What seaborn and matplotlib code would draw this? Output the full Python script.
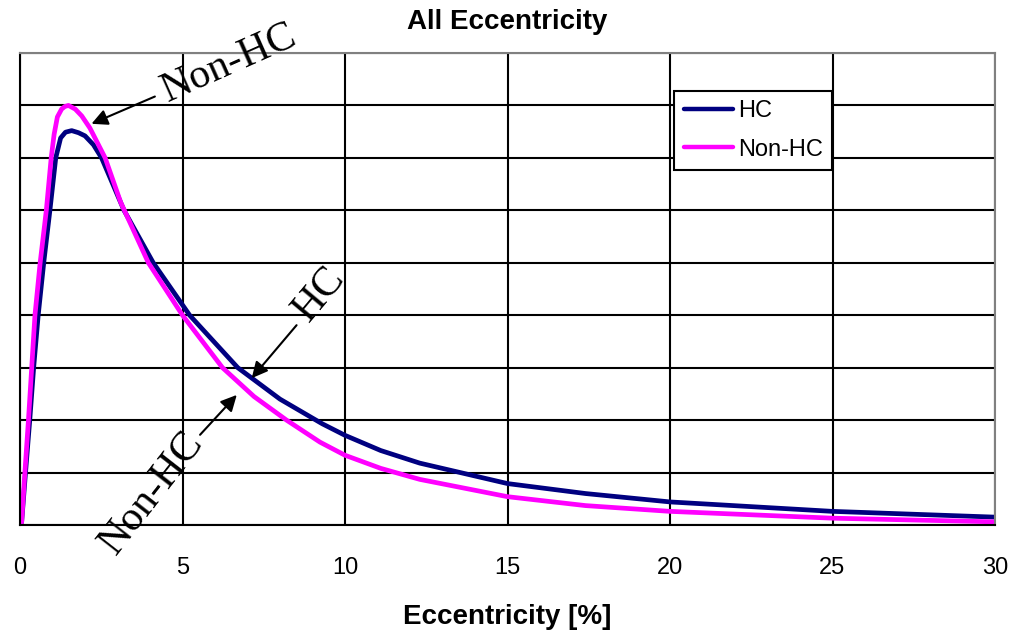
import matplotlib
matplotlib.use("Agg")
import matplotlib.pyplot as plt
import seaborn as sns
import pandas as pd

# Eccentricity distribution curves (relative frequency, arbitrary units)
hc_x = [0.05, 0.17, 0.30, 0.42, 0.56, 0.73, 0.92, 1.10, 1.25, 1.40, 1.59, 1.80,
        2.00, 2.26, 2.51, 3.20, 4.10, 5.22, 6.70, 8.00, 9.30, 10.0, 11.1, 12.3,
        15.0, 17.4, 20.0, 25.0, 30.0]
hc_y = [0.05, 1.00, 2.00, 3.00, 4.00, 5.00, 6.00, 7.00, 7.38, 7.49, 7.52, 7.48,
        7.42, 7.25, 7.00, 6.00, 5.00, 4.00, 3.00, 2.40, 1.93, 1.71, 1.42, 1.18,
        0.79, 0.60, 0.44, 0.26, 0.15]

nonhc_x = [0.05, 0.15, 0.26, 0.36, 0.46, 0.62, 0.81, 0.96, 1.05, 1.15, 1.28, 1.38,
           1.49, 1.70, 1.90, 2.15, 2.62, 3.10, 3.95, 5.00, 6.23, 7.20, 8.20, 9.23,
           10.0, 11.1, 12.3, 15.0, 17.4, 20.0, 25.0, 30.0]
nonhc_y = [0.05, 1.00, 2.00, 3.00, 4.00, 5.00, 6.00, 7.00, 7.45, 7.78, 7.93, 7.98,
           8.00, 7.93, 7.80, 7.57, 7.00, 6.15, 5.00, 4.00, 3.00, 2.45, 2.00, 1.58,
           1.33, 1.08, 0.87, 0.54, 0.37, 0.26, 0.13, 0.06]

series_names = ["HC", "Non-HC"]
series_colors = ["#000080", "#FF00FF"]
x_ticks = [0, 5, 10, 15, 20, 25, 30]

df = pd.concat([
    pd.DataFrame({"x": hc_x, "y": hc_y, "series": series_names[0]}),
    pd.DataFrame({"x": nonhc_x, "y": nonhc_y, "series": series_names[1]}),
], ignore_index=True)

sns.set_theme(style="white")
plt.rcParams["font.family"] = ["Liberation Sans", "DejaVu Sans"]
plt.rcParams["text.color"] = "black"
plt.rcParams["axes.labelcolor"] = "black"
plt.rcParams["xtick.color"] = "black"
plt.rcParams["ytick.color"] = "black"
plt.rcParams["lines.solid_capstyle"] = "round"
plt.rcParams["lines.solid_joinstyle"] = "round"

fig = plt.figure(figsize=(10.13, 6.32), dpi=100)
ax = fig.add_axes([20 / 1013, (632 - 525) / 632, 975 / 1013, 472 / 632])

sns.lineplot(data=df, x="x", y="y", hue="series", hue_order=series_names,
             palette=dict(zip(series_names, series_colors)), estimator=None,
             sort=False, linewidth=3.4, ax=ax)

ax.set_xlim(0, 30)
ax.set_ylim(0, 9)
ax.set_xticks(x_ticks)
ax.set_xticklabels([str(t) for t in x_ticks], fontsize=17)
ax.set_yticks(range(0, 10))
ax.set_yticklabels([])
ax.tick_params(axis="both", direction="out", length=6, width=1.5,
               color="black", labelcolor="black")
ax.tick_params(axis="x", pad=17)
ax.grid(True, color="black", linewidth=1.5)
ax.set_axisbelow(True)
for side in ("left", "bottom"):
    ax.spines[side].set_color("black")
    ax.spines[side].set_linewidth(1.5)
for side in ("top", "right"):
    ax.spines[side].set_color("#808080")
    ax.spines[side].set_linewidth(1.5)

ax.set_title("All Eccentricity", fontsize=20, fontweight="bold", pad=17,
             color="black")
ax.set_xlabel("Eccentricity [%]", fontsize=20, fontweight="bold", labelpad=18,
              color="black")
ax.set_ylabel("")

leg = ax.legend(loc="upper right", bbox_to_anchor=(0.833, 0.92),
                borderaxespad=0, fontsize=17, frameon=True, fancybox=False,
                framealpha=1, edgecolor="black", handlelength=2.1,
                handletextpad=0.2, borderpad=0.4, labelspacing=0.7)
leg.get_frame().set_linewidth(1.5)
for line in leg.get_lines():
    line.set_linewidth(3.2)
for txt in leg.get_texts():
    txt.set_color("black")

# Callouts
serif = ["Liberation Serif", "DejaVu Serif"]
arrow_kw = dict(arrowstyle="-|>", color="black", lw=1.5, mutation_scale=24,
                shrinkA=0, shrinkB=0)

ax.text(4.55, 8.07, "Non-HC", fontsize=30, family=serif, rotation=24,
        rotation_mode="anchor", ha="left", va="baseline", color="black")
ax.annotate("", xy=(2.2, 7.65), xytext=(4.15, 8.17), arrowprops=arrow_kw)

ax.text(9.2, 4.4, "HC", fontsize=30, family=serif, rotation=50,
        rotation_mode="anchor", ha="center", va="center", color="black")
ax.annotate("", xy=(7.13, 2.80), xytext=(8.51, 3.81), arrowprops=arrow_kw)

ax.text(4.06, 0.61, "Non-HC", fontsize=30, family=serif, rotation=52,
        rotation_mode="anchor", ha="center", va="center", color="black")
ax.annotate("", xy=(6.67, 2.48), xytext=(5.54, 1.72), arrowprops=arrow_kw)

fig.savefig("out.png", dpi=100)
